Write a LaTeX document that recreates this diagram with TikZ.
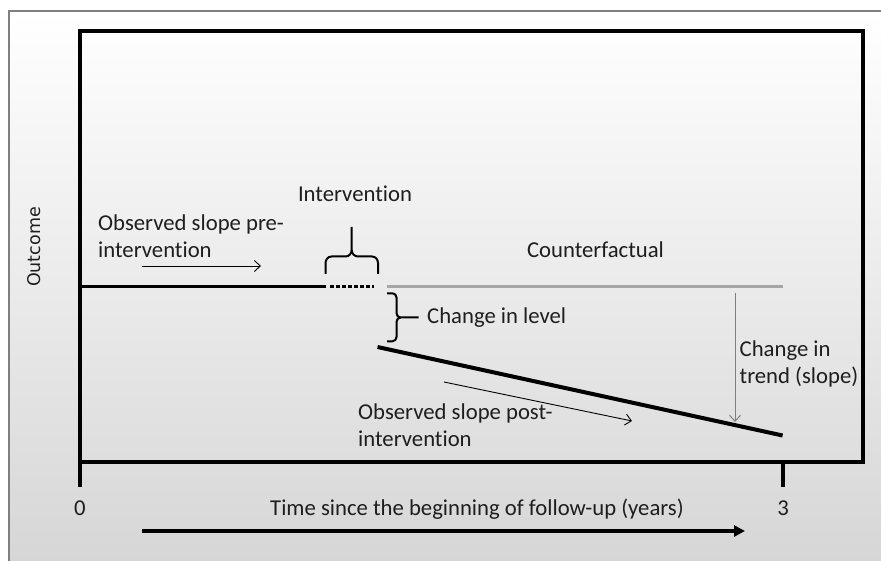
\documentclass[tikz,border=0pt]{standalone}
\usepackage{fontspec}
\setmainfont{Carlito}[Ligatures=NoCommon]
\newfontfamily\outfont{DejaVu Sans}
\usetikzlibrary{arrows.meta}
\definecolor{txt}{HTML}{1E1E1E}
\definecolor{cfgray}{HTML}{A6A6A6}
\definecolor{framegray}{HTML}{7F7F7F}
\tikzset{
  lbl/.style={inner sep=0pt, font=\fontsize{22.7}{26.5}\selectfont, text=txt},
  thinarrow/.style={line width=0.9pt, -{Straight Barb[length=6pt,width=11pt,line width=0.9pt]}},
  thickline/.style={line width=3.5pt},
}
\begin{document}
\begin{tikzpicture}[x=1pt,y=-1pt]
\useasboundingbox (0,0) rectangle (881,561);
\fill[white] (0,0) rectangle (881,561);
\shade[top color=white, middle color=black!5, bottom color=black!16] (9,11) rectangle (881,561);
\draw[framegray, line width=1.3pt] (9,561) -- (9,11) -- (881,11);

% frame of the plot
\draw[line width=3.3pt] (80,31) rectangle (863,462);
\coordinate (t0top) at (80,462);
\coordinate (t0bot) at (80,487);
\coordinate (t3top) at (783,462);
\coordinate (t3bot) at (783,487);
\draw[line width=3.3pt] (t0top) -- (t0bot);
\draw[line width=3.3pt] (t3top) -- (t3bot);

% axis labels
\node[lbl, anchor=base] (zero) at (80,515.3) {0};
\node[lbl, anchor=base] (three) at (783,515.3) {3};
\node[lbl, anchor=base] (time) at (477,515.3) {Time since the beginning of follow-up (years)};
\coordinate (ta) at (142,531);
\coordinate (tb) at (745,531);
\draw[line width=3.3pt, -{Triangle[length=11pt,width=11pt]}] (ta) -- (tb);
\node[inner sep=0pt, rotate=90, font=\outfont\fontsize{17.5}{20}\selectfont, text=txt] (outcome) at (34,247) {Outcome};

% pre-intervention
\coordinate (p0) at (80,286.5);
\coordinate (p1) at (325.5,286.5);
\coordinate (d0) at (330,286.5);
\coordinate (d1) at (374,286.5);
\draw[thickline] (p0) -- (p1);
\draw[line width=3.5pt, dash pattern=on 3.6pt off 2.4pt] (d0) -- (d1);
\node[lbl, anchor=base west, align=left] (pretxt) at (98,257.3) {Observed slope pre-\\intervention};
\coordinate (pa0) at (142,266);
\coordinate (pa1) at (261,266);
\draw[thinarrow] (pa0) -- (pa1);

% intervention brace
\node[lbl, anchor=base] (interv) at (355,201.3) {Intervention};
\draw[line width=2pt, line join=round]
  (325.5,274) -- (325.5,263) to[out=90,in=180] (331.5,256.5) -- (345.5,256.5)
  to[out=0,in=-90] (351.7,250) -- (351.7,227);
\draw[line width=2pt, line join=round]
  (378,274) -- (378,263) to[out=90,in=0] (372,256.5) -- (358,256.5)
  to[out=180,in=-90] (351.7,250);

% counterfactual
\coordinate (c0) at (386.5,286.5);
\coordinate (c1) at (782.6,286.5);
\draw[cfgray, line width=3.3pt] (c0) -- (c1);
\node[lbl, anchor=base] (cftxt) at (595.5,257.3) {Counterfactual};

% change in level
\draw[line width=2pt, line join=round]
  (387,293.3) -- (392.5,293.3) to[out=0,in=90] (396.5,297.5) -- (396.5,313)
  to[out=-90,in=180] (400.5,317.5) -- (418.5,317.5);
\draw[line width=2pt, line join=round]
  (400.5,317.5) to[out=180,in=90] (396.5,322) -- (396.5,337)
  to[out=-90,in=0] (392.5,341.3) -- (387,341.3);
\node[lbl, anchor=base west] (lvltxt) at (427,323.3) {Change in level};

% post-intervention
\coordinate (q0) at (377.5,347);
\coordinate (q1) at (782.6,435.5);
\draw[line width=4pt] (q0) -- (q1);
\coordinate (qa0) at (444,382);
\coordinate (qa1) at (632,421);
\draw[thinarrow] (qa0) -- (qa1);
\node[lbl, anchor=base west, align=left] (posttxt) at (358,446.3) {Observed slope post-\\intervention};

% change in trend
\coordinate (ct0) at (735,293);
\coordinate (ct1) at (735,422);
\draw[framegray, line width=1pt, -{Straight Barb[length=6pt,width=11pt,line width=1pt]}] (ct0) -- (ct1);
\node[lbl, anchor=base west, align=left] (trendtxt) at (739.5,383.3) {Change in\\trend (slope)};
\end{tikzpicture}
\end{document}
